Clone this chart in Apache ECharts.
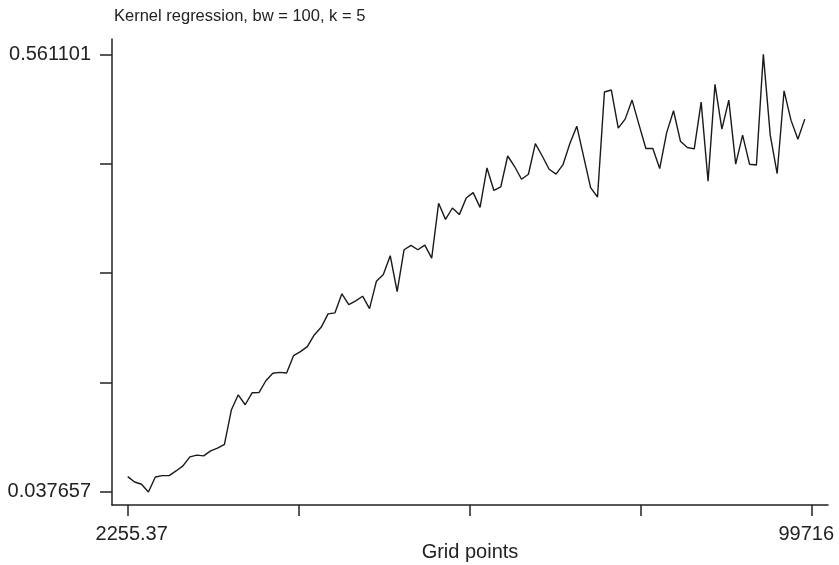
<!DOCTYPE html>
<html>
<head>
<meta charset="utf-8">
<title>Kernel regression</title>
<script src="https://cdn.jsdelivr.net/npm/echarts@6/dist/echarts.min.js"></script>
<style>
  html, body { margin: 0; padding: 0; background: #fff; }
  #chart { width: 839px; height: 565px; }
</style>
</head>
<body>
<div id="chart"></div>
<script>
// Grid points at which the kernel regression was evaluated
var gridPoints = [
  2255.4, 3239.8, 4224.3, 5208.7, 6193.2, 7177.6, 8162.1, 9146.5, 10131.0, 11115.4,
  12099.9, 13084.3, 14068.8, 15053.2, 16037.7, 17022.1, 18006.6, 18991.0, 19975.5, 20959.9,
  21944.4, 22928.8, 23913.3, 24897.7, 25882.2, 26866.6, 27851.1, 28835.5, 29820.0, 30804.4,
  31788.9, 32773.3, 33757.8, 34742.2, 35726.7, 36711.1, 37695.6, 38680.0, 39664.5, 40648.9,
  41633.4, 42617.9, 43602.3, 44586.8, 45571.2, 46555.7, 47540.1, 48524.6, 49509.0, 50493.5,
  51477.9, 52462.4, 53446.8, 54431.3, 55415.7, 56400.2, 57384.6, 58369.1, 59353.5, 60338.0,
  61322.4, 62306.9, 63291.3, 64275.8, 65260.2, 66244.7, 67229.1, 68213.6, 69198.0, 70182.5,
  71166.9, 72151.4, 73135.8, 74120.3, 75104.7, 76089.2, 77073.7, 78058.1, 79042.6, 80027.0,
  81011.5, 81995.9, 82980.4, 83964.8, 84949.3, 85933.7, 86918.2, 87902.6, 88887.1, 89871.5,
  90856.0, 91840.4, 92824.9, 93809.3, 94793.8, 95778.2, 96762.7, 97747.1, 98731.6
];

// Smoothed estimate at each grid point
var smoothed = [
  0.0560, 0.0496, 0.0469, 0.037657, 0.0556, 0.0572, 0.0573, 0.0628, 0.0688, 0.0796,
  0.0817, 0.0808, 0.0868, 0.0900, 0.0946, 0.1356, 0.1539, 0.1420, 0.1563, 0.1566,
  0.1707, 0.1797, 0.1807, 0.1800, 0.2007, 0.2055, 0.2115, 0.2255, 0.2346, 0.2507,
  0.2519, 0.2747, 0.2618, 0.2663, 0.2718, 0.2570, 0.2898, 0.2978, 0.3202, 0.2774,
  0.3274, 0.3326, 0.3274, 0.3329, 0.3173, 0.3829, 0.3637, 0.3773, 0.3694, 0.3893,
  0.3957, 0.3781, 0.4252, 0.3983, 0.4025, 0.4395, 0.4269, 0.4117, 0.4177, 0.4542,
  0.4395, 0.4237, 0.4179, 0.4291, 0.4545, 0.4752, 0.4384, 0.4017, 0.3905, 0.5160,
  0.5184, 0.4728, 0.4836, 0.5064, 0.4770, 0.4485, 0.4485, 0.4245, 0.4672, 0.4936,
  0.4572, 0.4497, 0.4480, 0.5040, 0.4093, 0.5252, 0.4716, 0.5064, 0.4297, 0.4644,
  0.4297, 0.4288, 0.561101, 0.4644, 0.4185, 0.5175, 0.4824, 0.4596, 0.4836
];

// Axis ticks and the two labelled extremes on each axis
var xTickValues = [2255.37, 26620.53, 50985.69, 75350.84, 99716];
var xTickLabels = ['2255.37', '', '', '', '99716'];
var yTickValues = [0.037657, 0.168518, 0.299379, 0.43024, 0.561101];
var yTickLabels = ['0.037657', '', '', '', '0.561101'];

var titleText = 'Kernel regression, bw = 100, k = 5';
var xAxisTitle = 'Grid points';

function indexOfTick(values, v) {
  for (var i = 0; i < values.length; i++) {
    if (Math.abs(v - values[i]) < 1e-6 * Math.max(1, Math.abs(values[i]))) return i;
  }
  return -1;
}

function labelledValues(values, labels) {
  return values.filter(function (v, i) { return labels[i] !== ''; });
}

var points = gridPoints.map(function (x, i) { return [x, smoothed[i]]; });

var FONT = '"Liberation Sans", Arial, Helvetica, sans-serif';
var INK = '#222';

var chart = echarts.init(document.getElementById('chart'), null, { renderer: 'canvas' });
chart.setOption({
  animation: false,
  backgroundColor: '#ffffff',
  title: {
    text: titleText,
    left: 109,
    top: 3,
    textStyle: { fontFamily: FONT, fontSize: 16.5, fontWeight: 'normal', color: INK }
  },
  grid: {
    left: 112, right: 11, top: 39, bottom: 60,
    containLabel: false,
    outerBoundsMode: 'none'
  },
  xAxis: {
    type: 'value',
    min: 18.4,
    max: 102038.5,
    name: xAxisTitle,
    nameLocation: 'middle',
    nameGap: 37,
    nameMoveOverlap: false,
    nameTextStyle: { fontFamily: FONT, fontSize: 20, color: INK },
    axisLine: { show: true, onZero: false, lineStyle: { color: INK, width: 1.5 } },
    axisTick: {
      show: true, inside: false, length: 11,
      customValues: xTickValues,
      lineStyle: { color: INK, width: 1.5 }
    },
    axisLabel: {
      show: true, margin: 19,
      customValues: labelledValues(xTickValues, xTickLabels),
      formatter: function (v) {
        var i = indexOfTick(xTickValues, v);
        if (i < 0 || !xTickLabels[i]) return '';
        // first label nudged right, last nudged left, to stay inside the axis span
        var style = i === 0 ? 'first' : (i === xTickValues.length - 1 ? 'last' : 'mid');
        return '{' + style + '|' + xTickLabels[i] + '}';
      },
      rich: {
        first: { fontFamily: FONT, fontSize: 20, color: INK, padding: [0, 0, 0, 8] },
        last: { fontFamily: FONT, fontSize: 20, color: INK, padding: [0, 11, 0, 0] },
        mid: { fontFamily: FONT, fontSize: 20, color: INK }
      },
      fontFamily: FONT, fontSize: 20, color: INK,
      showMinLabel: true, showMaxLabel: true
    },
    splitLine: { show: false }
  },
  yAxis: {
    type: 'value',
    min: 0.022075,
    max: 0.57944,
    axisLine: { show: true, onZero: false, lineStyle: { color: INK, width: 1.5 } },
    axisTick: {
      show: true, inside: false, length: 12,
      customValues: yTickValues,
      lineStyle: { color: INK, width: 1.5 }
    },
    axisLabel: {
      show: true, margin: 21,
      customValues: labelledValues(yTickValues, yTickLabels),
      formatter: function (v) {
        var i = indexOfTick(yTickValues, v);
        return i < 0 ? '' : yTickLabels[i];
      },
      fontFamily: FONT, fontSize: 20, color: INK,
      showMinLabel: true, showMaxLabel: true
    },
    splitLine: { show: false }
  },
  series: [{
    type: 'line',
    data: points,
    showSymbol: false,
    symbol: 'none',
    lineStyle: { color: '#1a1a1a', width: 1.4 },
    clip: false
  }]
});
</script>
</body>
</html>
